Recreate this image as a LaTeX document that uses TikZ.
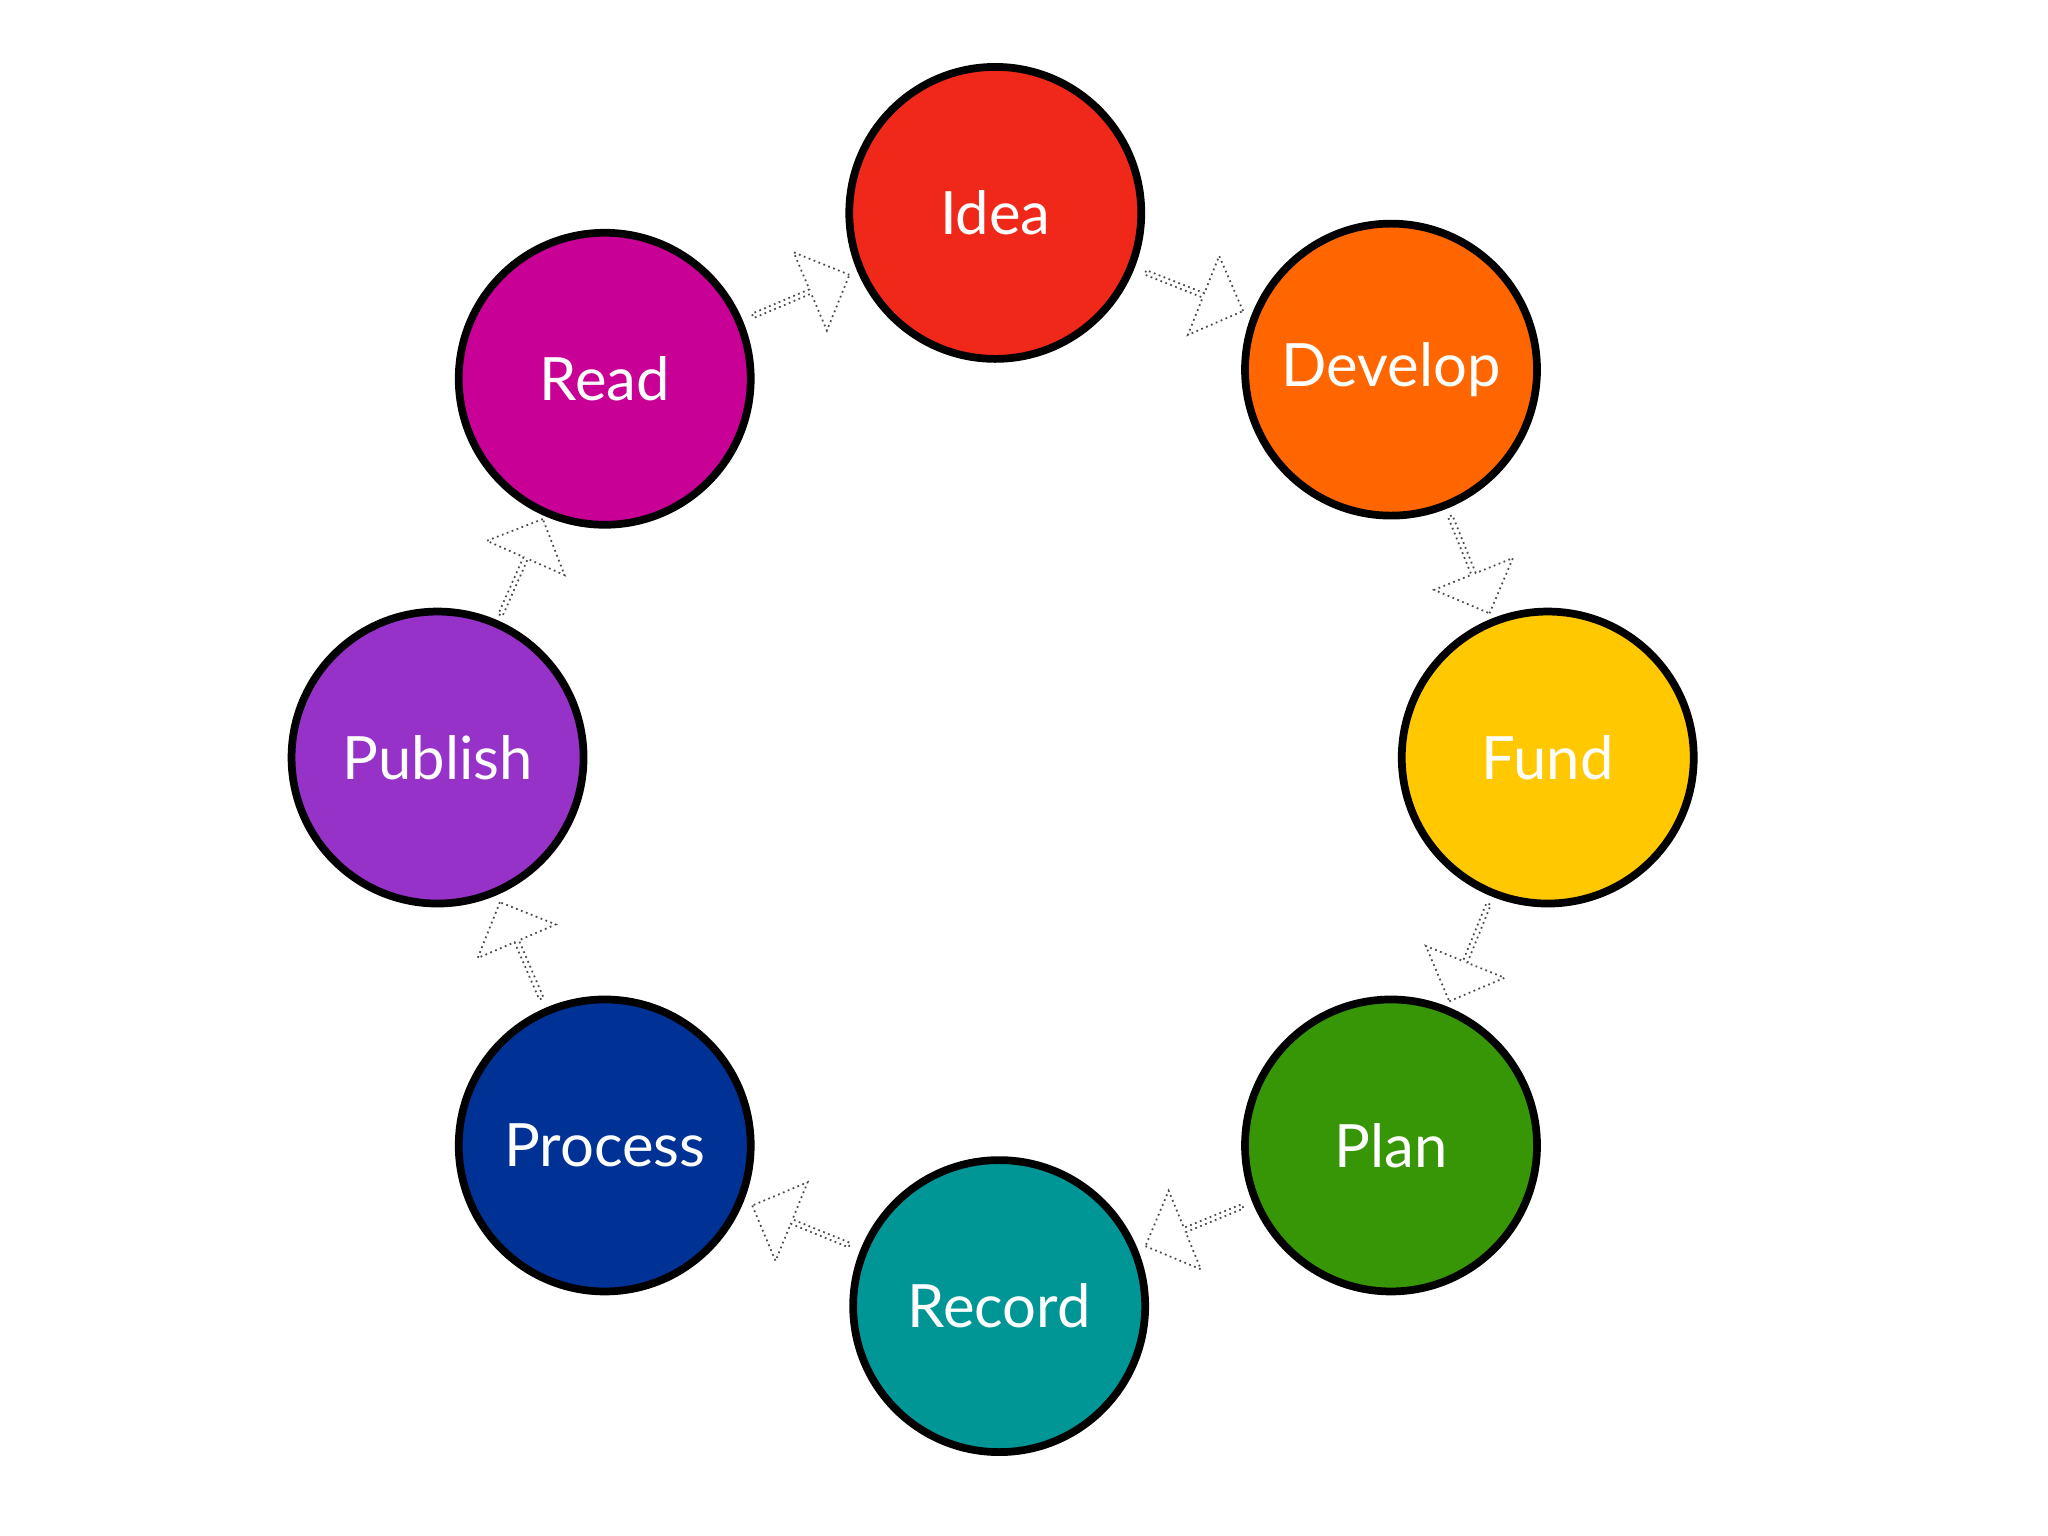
\documentclass[tikz,border=0pt]{standalone}
\usepackage{fontspec}
\setmainfont{Lato}
\usetikzlibrary{shapes.arrows,calc}
\definecolor{cIdea}{RGB}{240,40,25}
\definecolor{cDev}{RGB}{255,102,0}
\definecolor{cFund}{RGB}{255,200,0}
\definecolor{cPlan}{RGB}{55,150,5}
\definecolor{cRec}{RGB}{0,150,150}
\definecolor{cProc}{RGB}{0,50,150}
\definecolor{cPub}{RGB}{150,50,200}
\definecolor{cRead}{RGB}{200,0,150}
\tikzset{
  stage/.style={circle,draw=black,line width=2.2pt,minimum size=2.92cm,inner sep=0pt,text=white,font=\fontsize{17}{20}\selectfont},
  flow/.style={single arrow,draw=black!70,densely dotted,line width=0.5pt,fill=white,minimum height=1.05cm,minimum width=0.85cm,single arrow head extend=0.15cm,inner sep=0pt}
}
\begin{document}
\begin{tikzpicture}[x=0.01306cm,y=-0.01306cm]
\useasboundingbox (0,0) rectangle (1568,1176);
\node[stage,fill=cIdea] (idea) at (762,163) {Idea};
\node[stage,fill=cDev] (dev) at (1065,283) {Develop};
\node[stage,fill=cFund] (fund) at (1185,580) {Fund};
\node[stage,fill=cPlan] (plan) at (1065,877) {Plan};
\node[stage,fill=cRec] (rec) at (765,1000) {Record};
\node[stage,fill=cProc] (proc) at (463,877) {Process};
\node[stage,fill=cPub] (pub) at (335,580) {Publish};
\node[stage,fill=cRead] (read) at (463,290) {Read};
\foreach \a/\b in {idea/dev,dev/fund,fund/plan,plan/rec,rec/proc,proc/pub,pub/read,read/idea}{
  \path let \p1=(\a.center), \p2=(\b.center), \n1={atan2(\y2-\y1,\x2-\x1)} in
    node[flow,rotate=\n1] (\a-\b) at ($(\a.center)!0.5!(\b.center)$) {};
}
\end{tikzpicture}
\end{document}
